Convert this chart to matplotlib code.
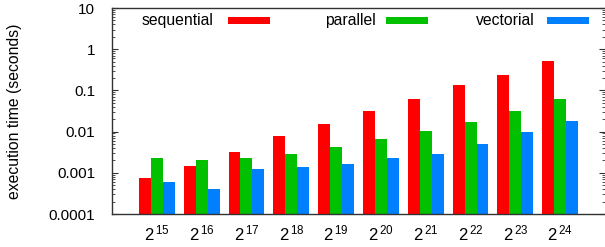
import matplotlib
matplotlib.use('Agg')
import matplotlib.pyplot as plt
import numpy as np
from matplotlib.patches import Rectangle
from matplotlib.ticker import LogLocator, NullFormatter, FixedLocator, FixedFormatter

plt.rcParams['font.family'] = ['Liberation Sans', 'DejaVu Sans']
plt.rcParams['mathtext.fontset'] = 'custom'
plt.rcParams['mathtext.rm'] = 'Liberation Sans'
plt.rcParams['mathtext.it'] = 'Liberation Sans'

sizes = [r'$2^{\,15}$', r'$2^{\,16}$', r'$2^{\,17}$', r'$2^{\,18}$', r'$2^{\,19}$',
         r'$2^{\,20}$', r'$2^{\,21}$', r'$2^{\,22}$', r'$2^{\,23}$', r'$2^{\,24}$']
sequential = [7.5e-4, 1.48e-3, 3.2e-3, 8.0e-3, 0.0157, 0.032, 0.063, 0.132, 0.23, 0.51]
parallel = [2.3e-3, 2.1e-3, 2.3e-3, 2.9e-3, 4.3e-3, 6.7e-3, 0.0106, 0.0175, 0.032, 0.063]
vectorial = [6.0e-4, 4.1e-4, 1.25e-3, 1.4e-3, 1.66e-3, 2.3e-3, 2.9e-3, 5.1e-3, 0.010, 0.0185]

series = [('sequential', sequential, '#ff0000'),
          ('parallel', parallel, '#00c000'),
          ('vectorial', vectorial, '#0080ff')]

fig = plt.figure(figsize=(6.05, 2.47), dpi=100)
ax = fig.add_axes([112 / 605, 1 - 214 / 247, 493 / 605, 206 / 247])

x = np.arange(len(sizes))
w = 0.267
for i, (name, vals, col) in enumerate(series):
    ax.bar(x + (i - 1) * w, np.array(vals) - 1e-4, width=w, bottom=1e-4,
           color=col, linewidth=0)

ax.set_yscale('log')
ax.set_ylim(1e-4, 10)
ax.set_xlim(-1, 10)

ax.yaxis.set_major_locator(FixedLocator([1e-4, 1e-3, 1e-2, 0.1, 1, 10]))
ax.yaxis.set_major_formatter(FixedFormatter(['0.0001', '0.001', '0.01', '0.1', '1', '10']))
ax.yaxis.set_minor_locator(LogLocator(base=10, subs=np.arange(2, 10)))
ax.yaxis.set_minor_formatter(NullFormatter())
ax.tick_params(axis='y', which='major', direction='in', length=4, width=0.8,
               color='#333333', labelsize=11, pad=12, right=True)
ax.tick_params(axis='y', which='minor', direction='in', length=2, width=0.6,
               color='#333333', right=True)

ax.set_xticks(x)
ax.set_xticklabels(sizes)
ax.tick_params(axis='x', length=0, labelsize=12, pad=7)

for s in ['left', 'top', 'bottom']:
    ax.spines[s].set_color('#333333')
    ax.spines[s].set_linewidth(1.0)
ax.spines['right'].set_visible(False)

ax.set_ylabel('execution time (seconds)', fontsize=11.3)
ax.yaxis.set_label_coords((22 - 112) / 493, 0.5)

# gnuplot-style key: text right aligned, then a colour sample
text_right = [213, 376, 535]
box_left = [228, 386, 547]
for (name, vals, col), tr, bl in zip(series, text_right, box_left):
    ax.text((tr - 112) / 493, 1 - (20 - 8) / 206, name, transform=ax.transAxes,
            ha='right', va='center', fontsize=11.3)
    ax.add_patch(Rectangle(((bl - 112) / 493, 1 - (24 - 8) / 206), 42 / 493, 7 / 206,
                           transform=ax.transAxes, color=col, linewidth=0))

fig.savefig('out.png', dpi=100)
